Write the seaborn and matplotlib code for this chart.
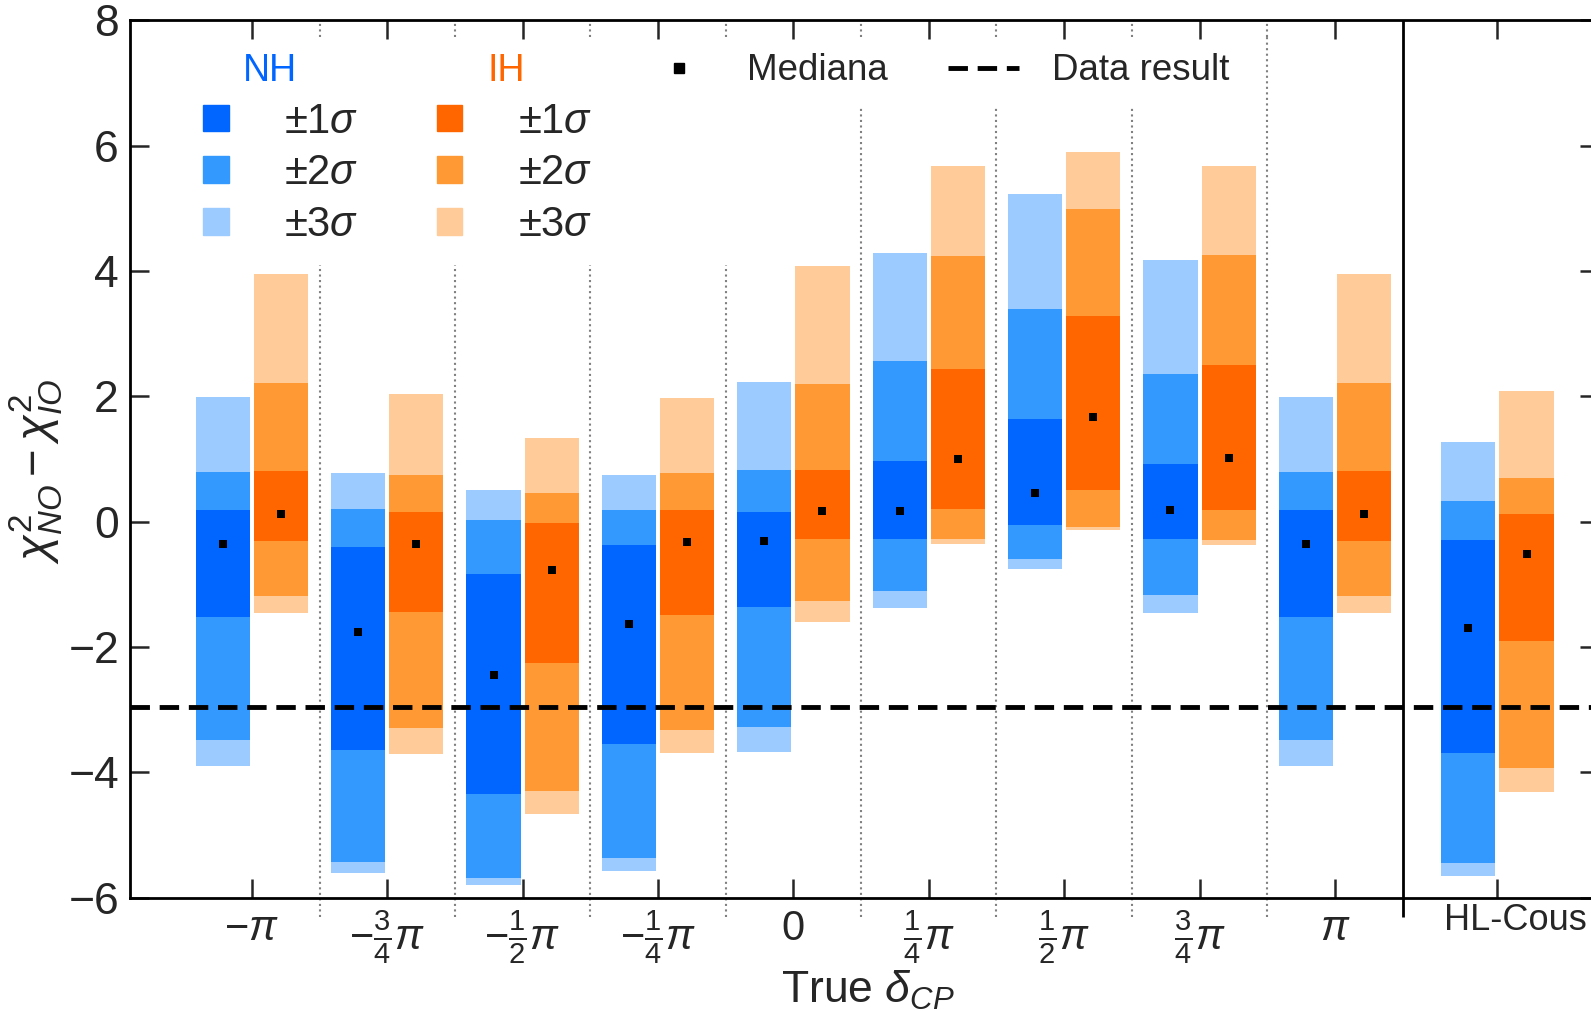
import numpy as np
import pandas as pd
import seaborn as sns
import matplotlib.pyplot as plt
import matplotlib.transforms as mtransforms
from matplotlib.patches import Patch
from matplotlib.lines import Line2D

# true delta_CP points + the HL-Cous column
tick_labels = [r'$-\pi$', r'$-\frac{3}{4}\pi$', r'$-\frac{1}{2}\pi$', r'$-\frac{1}{4}\pi$', '0',
               r'$\frac{1}{4}\pi$', r'$\frac{1}{2}\pi$', r'$\frac{3}{4}\pi$', r'$\pi$', 'HL-Cous']
xpos = [0, 1, 2, 3, 4, 5, 6, 7, 8, 9.2]

# NH (normal hierarchy)
nh_med = [-0.35, -1.76, -2.45, -1.64, -0.31, 0.17, 0.46, 0.19, -0.35, -1.70]
nh_1lo = [-1.52, -3.64, -4.34, -3.54, -1.36, -0.28, -0.06, -0.27, -1.52, -3.69]
nh_1hi = [0.19, -0.40, -0.84, -0.37, 0.16, 0.965, 1.64, 0.92, 0.19, -0.30]
nh_2lo = [-3.48, -5.43, -5.68, -5.36, -3.27, -1.11, -0.60, -1.17, -3.48, -5.45]
nh_2hi = [0.80, 0.20, 0.02, 0.19, 0.83, 2.56, 3.39, 2.36, 0.80, 0.33]
nh_3lo = [-3.90, -5.61, -5.79, -5.57, -3.67, -1.37, -0.76, -1.46, -3.90, -5.65]
nh_3hi = [1.99, 0.77, 0.51, 0.75, 2.23, 4.28, 5.22, 4.17, 1.99, 1.27]

# IH (inverted hierarchy)
ih_med = [0.12, -0.36, -0.77, -0.33, 0.17, 1.00, 1.67, 1.01, 0.12, -0.51]
ih_1lo = [-0.31, -1.44, -2.26, -1.49, -0.27, 0.20, 0.50, 0.18, -0.31, -1.91]
ih_1hi = [0.81, 0.15, -0.02, 0.18, 0.82, 2.43, 3.28, 2.50, 0.81, 0.12]
ih_2lo = [-1.19, -3.29, -4.30, -3.32, -1.26, -0.27, -0.08, -0.29, -1.19, -3.93]
ih_2hi = [2.22, 0.75, 0.45, 0.77, 2.19, 4.24, 4.99, 4.25, 2.22, 0.69]
ih_3lo = [-1.46, -3.70, -4.66, -3.69, -1.60, -0.35, -0.14, -0.37, -1.46, -4.31]
ih_3hi = [3.95, 2.04, 1.34, 1.98, 4.08, 5.68, 5.90, 5.68, 3.95, 2.08]

data_result = -2.96

nh_cols = ['#0066ff', '#3399ff', '#9ccbff']
ih_cols = ['#ff6600', '#ff9933', '#ffcb99']

sns.set_theme(style='ticks')
plt.rcParams['font.family'] = ['Liberation Sans', 'DejaVu Sans']
plt.rcParams['mathtext.fontset'] = 'custom'
plt.rcParams['mathtext.rm'] = 'Liberation Sans'
plt.rcParams['mathtext.it'] = 'Liberation Sans:italic'
plt.rcParams['mathtext.bf'] = 'Liberation Sans:bold'

fig = plt.figure(figsize=(15.91, 10.11), dpi=100)
# right spine sits just past the picture edge, like the cropped original
ax = fig.add_axes([0.0817, 0.112, 0.9233, 0.868])

x = np.array(xpos)
w = 0.40
off = 0.215

for lo, hi, c in [(nh_3lo, nh_3hi, nh_cols[2]), (nh_2lo, nh_2hi, nh_cols[1]), (nh_1lo, nh_1hi, nh_cols[0])]:
    ax.bar(x - off, np.array(hi) - np.array(lo), bottom=lo, width=w, color=c, linewidth=0, zorder=2)
for lo, hi, c in [(ih_3lo, ih_3hi, ih_cols[2]), (ih_2lo, ih_2hi, ih_cols[1]), (ih_1lo, ih_1hi, ih_cols[0])]:
    ax.bar(x + off, np.array(hi) - np.array(lo), bottom=lo, width=w, color=c, linewidth=0, zorder=2)

med = pd.DataFrame({'x': np.concatenate([x - off, x + off]), 'y': nh_med + ih_med})
sns.scatterplot(data=med, x='x', y='y', marker='s', s=36, color='black', linewidth=0, zorder=4, ax=ax)

ax.axhline(data_result, color='black', ls='--', lw=3.5, dashes=(4, 2), zorder=3)

# dotted separators, broken where the legends sit
for i, xs in enumerate(np.arange(8) + 0.5):
    if i < 4:
        gap = 4.09
    elif i < 7:
        gap = 6.61
    else:
        gap = 7.73
    ax.vlines(xs, -6.3, gap, colors='gray', linestyles=':', lw=1.5, zorder=1, clip_on=False)
    ax.vlines(xs, 7.73, 8, colors='gray', linestyles=':', lw=1.5, zorder=1)
ax.vlines(8.5, -6.3, 8, colors='black', lw=2, zorder=3, clip_on=False)

ax.set_xlim(-0.9, 9.95)
ax.set_ylim(-6, 8)
ax.set_xticks(x)
ax.set_xticklabels(tick_labels)
ax.set_yticks(np.arange(-6, 9, 2))
ax.set_yticklabels(['$-$6', '$-$4', '$-$2', '0', '2', '4', '6', '8'])
ax.tick_params(axis='both', direction='in', length=14, width=1.8, top=True, right=True)
ax.tick_params(axis='y', labelsize=32, pad=8)
ax.tick_params(axis='x', labelsize=30, pad=8)
hl = ax.get_xticklabels()[-1]
hl.set_fontsize(26)
hl.set_transform(hl.get_transform() + mtransforms.ScaledTranslation(0.18, 0.06, fig.dpi_scale_trans))
for s in ax.spines.values():
    s.set_linewidth(2)
    s.set_color('black')

ax.set_xlabel(r'True $\delta_{CP}$', fontsize=32)
ax.set_ylabel(r'$\chi^2_{NO} - \chi^2_{IO}$', fontsize=34)
ax.xaxis.set_label_coords(0.502, -0.081)
ax.yaxis.set_label_coords(-0.044, 0.486)

# legend with the sigma bands
h1 = [Patch(facecolor='none', edgecolor='none'), Patch(color=nh_cols[0]), Patch(color=nh_cols[1]), Patch(color=nh_cols[2]),
      Patch(facecolor='none', edgecolor='none'), Patch(color=ih_cols[0]), Patch(color=ih_cols[1]), Patch(color=ih_cols[2])]
l1 = [r'$\pm1\sigma$', r'$\pm1\sigma$', r'$\pm2\sigma$', r'$\pm3\sigma$'] * 2
leg1 = ax.legend(h1, l1, ncol=2, loc='center left', bbox_to_anchor=(-0.36, 5.97),
                 bbox_transform=ax.transData, fontsize=30,
                 handlelength=0.61, handleheight=0.61, handletextpad=1.34, columnspacing=1.87,
                 labelspacing=0.28, frameon=False, borderpad=0, borderaxespad=0)
leg1.get_texts()[0].set_alpha(0)
leg1.get_texts()[4].set_alpha(0)
ax.add_artist(leg1)
ax.text(0.135, 7.19, 'NH', color=nh_cols[0], fontsize=27, ha='center', va='center', zorder=6)
ax.text(1.88, 7.19, 'IH', color=ih_cols[0], fontsize=27, ha='center', va='center', zorder=6)

h2 = [Line2D([], [], marker='s', ls='none', color='black', markersize=7),
      Line2D([], [], color='black', ls='--', lw=3.5, dashes=(4, 2))]
ax.legend(h2, ['Mediana', 'Data result'], ncol=2, loc='center left', bbox_to_anchor=(2.89, 7.19),
          bbox_transform=ax.transData, fontsize=26.5, handlelength=1.95, handletextpad=0.88,
          columnspacing=1.62, frameon=False, borderpad=0, borderaxespad=0)

fig.savefig('out.png', dpi=100)
